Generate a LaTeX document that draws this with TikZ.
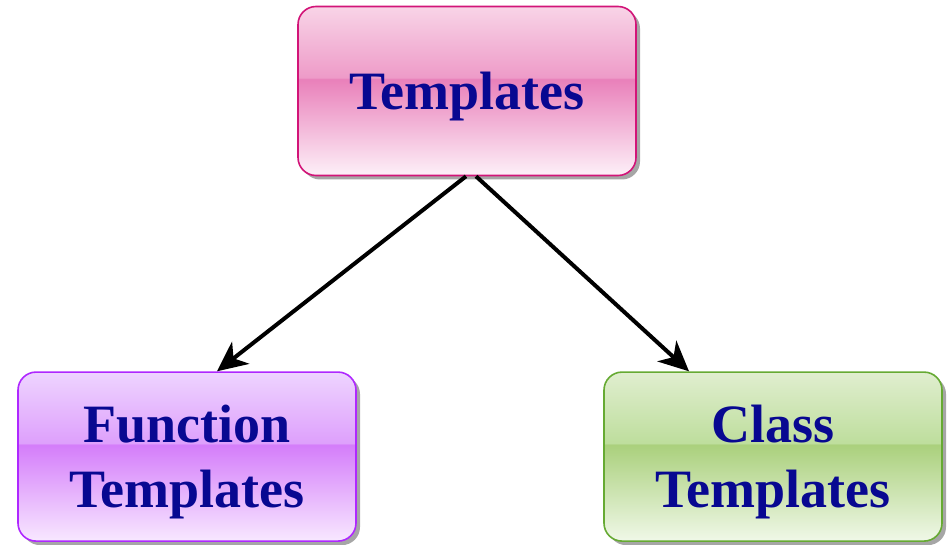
\documentclass[tikz,border=0pt]{standalone}
\usepackage{fontspec}
\setmainfont{Liberation Serif}
\usetikzlibrary{positioning,shadows,arrows.meta}

\definecolor{txtblue}{RGB}{8,8,145}
\definecolor{pinkline}{RGB}{210,20,120}
\definecolor{pinkbot}{RGB}{253,240,248}
\definecolor{pinkbase}{RGB}{233,128,186}
\definecolor{pinkover}{RGB}{238,155,200}
\definecolor{pinktop}{RGB}{248,212,231}
\definecolor{purpleline}{RGB}{175,40,255}
\definecolor{purplebot}{RGB}{248,232,255}
\definecolor{purplebase}{RGB}{212,125,250}
\definecolor{purpleover}{RGB}{222,160,252}
\definecolor{purpletop}{RGB}{238,212,255}
\definecolor{greenline}{RGB}{102,170,51}
\definecolor{greenbot}{RGB}{240,248,232}
\definecolor{greenbase}{RGB}{170,208,124}
\definecolor{greenover}{RGB}{190,222,157}
\definecolor{greentop}{RGB}{224,238,207}

\pgfdeclareverticalshading{pinkglass}{100bp}{color(0bp)=(pinkbot); color(25bp)=(pinkbot); color(53.5bp)=(pinkbase); color(54bp)=(pinkover); color(75bp)=(pinktop); color(100bp)=(pinktop)}
\pgfdeclareverticalshading{purpleglass}{100bp}{color(0bp)=(purplebot); color(25bp)=(purplebot); color(53.5bp)=(purplebase); color(54bp)=(purpleover); color(75bp)=(purpletop); color(100bp)=(purpletop)}
\pgfdeclareverticalshading{greenglass}{100bp}{color(0bp)=(greenbot); color(25bp)=(greenbot); color(53.5bp)=(greenbase); color(54bp)=(greenover); color(75bp)=(greentop); color(100bp)=(greentop)}

\tikzset{
  glass/.style={rectangle, rounded corners=18pt, shading=#1glass, draw=#1line,
    line width=1.6pt, minimum width=338pt, minimum height=169pt, inner sep=0pt,
    align=center, text=txtblue, text depth=0pt, font=\fontsize{54}{65}\selectfont\bfseries,
    drop shadow={shadow xshift=4pt, shadow yshift=-4pt, fill=black, opacity=0.35}},
  link/.style={line width=4pt, -{Stealth[length=30pt, width=28pt, inset=9pt]}}
}

\begin{document}
\begin{tikzpicture}
			      \useasboundingbox (0,0) rectangle (950pt,544pt);

			      % Define nodes
			      \node[glass=pink] (T) at (467pt,453pt) {Templates};
			      \node[glass=purple, below=195pt of T, xshift=-280pt] (F) {Function\\Templates};
			      \node[glass=green, below=195pt of T, xshift=306pt] (C) {Class\\Templates};

			      % Connect the nodes
			      \draw[link] ([xshift=-1pt]T.south) -- ([xshift=30pt]F.north);
			      \draw[link] ([xshift=9pt]T.south) -- ([xshift=-84pt]C.north);
		      \end{tikzpicture}
\end{document}
